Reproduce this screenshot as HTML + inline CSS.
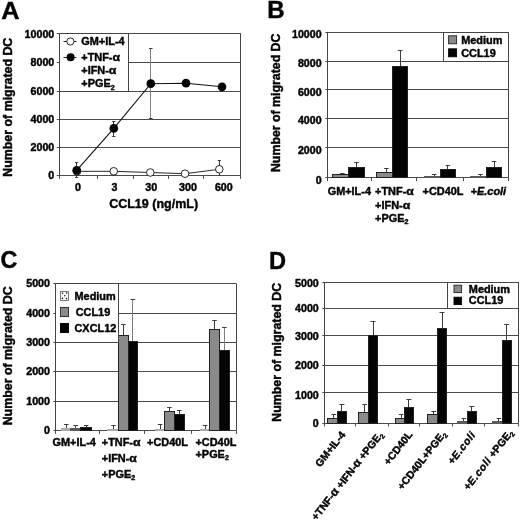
<!DOCTYPE html>
<html><head><meta charset="utf-8"><title>Figure</title>
<style>
html,body{margin:0;padding:0;background:#fff;}
svg{display:block;}
text{font-family:"Liberation Sans", sans-serif;fill:#040404;stroke:#040404;stroke-width:0.42px;stroke-linejoin:round;}
svg{will-change:transform;}
</style></head>
<body>
<svg width="520" height="521" viewBox="0 0 520 521">
<defs>
<pattern id="dots" width="4" height="4" patternUnits="userSpaceOnUse">
<rect width="4" height="4" fill="#fff"/>
<rect x="0.5" y="0.5" width="1.1" height="1.1" fill="#333"/>
<rect x="2.5" y="2.5" width="1.1" height="1.1" fill="#333"/>
</pattern>
</defs>
<rect width="520" height="521" fill="#fff"/>
<text transform="translate(1.2,18.8) scale(1.03,1)" font-size="24.6" text-anchor="start" font-weight="bold" >A</text>
<line x1="56.8" y1="33.5" x2="240.8" y2="33.5" stroke="#4a4a4a" stroke-width="1"/>
<line x1="56.8" y1="62.5" x2="240.8" y2="62.5" stroke="#4a4a4a" stroke-width="1"/>
<line x1="56.8" y1="91.5" x2="240.8" y2="91.5" stroke="#4a4a4a" stroke-width="1"/>
<line x1="56.8" y1="119.5" x2="240.8" y2="119.5" stroke="#4a4a4a" stroke-width="1"/>
<line x1="56.8" y1="147.5" x2="240.8" y2="147.5" stroke="#4a4a4a" stroke-width="1"/>
<line x1="56.8" y1="175.5" x2="240.8" y2="175.5" stroke="#4a4a4a" stroke-width="1"/>
<line x1="59.5" y1="33.5" x2="59.5" y2="175.7" stroke="#444" stroke-width="1"/>
<line x1="240.5" y1="33.5" x2="240.5" y2="175.7" stroke="#444" stroke-width="1"/>
<line x1="59.5" y1="175.7" x2="59.5" y2="178.9" stroke="#4a4a4a" stroke-width="1"/>
<line x1="97.5" y1="175.7" x2="97.5" y2="178.9" stroke="#4a4a4a" stroke-width="1"/>
<line x1="133.5" y1="175.7" x2="133.5" y2="178.9" stroke="#4a4a4a" stroke-width="1"/>
<line x1="168.5" y1="175.7" x2="168.5" y2="178.9" stroke="#4a4a4a" stroke-width="1"/>
<line x1="203.5" y1="175.7" x2="203.5" y2="178.9" stroke="#4a4a4a" stroke-width="1"/>
<line x1="240.5" y1="175.7" x2="240.5" y2="178.9" stroke="#4a4a4a" stroke-width="1"/>
<text transform="translate(54.3,38.1) scale(1.07,1)" font-size="10.0" text-anchor="end" font-weight="bold" >10000</text>
<text transform="translate(54.3,66.3) scale(1.07,1)" font-size="10.0" text-anchor="end" font-weight="bold" >8000</text>
<text transform="translate(54.3,95.2) scale(1.07,1)" font-size="10.0" text-anchor="end" font-weight="bold" >6000</text>
<text transform="translate(54.3,122.5) scale(1.07,1)" font-size="10.0" text-anchor="end" font-weight="bold" >4000</text>
<text transform="translate(54.3,150.6) scale(1.07,1)" font-size="10.0" text-anchor="end" font-weight="bold" >2000</text>
<text transform="translate(54.3,179.1) scale(1.07,1)" font-size="10.0" text-anchor="end" font-weight="bold" >0</text>
<text transform="translate(12.1,107.2) scale(1.06,1) rotate(-90)" font-size="12.4" font-weight="bold" text-anchor="middle">Number of migrated DC</text>
<text transform="translate(78,190.9) scale(1.07,1)" font-size="10.0" text-anchor="middle" font-weight="bold" >0</text>
<text transform="translate(114.5,190.9) scale(1.07,1)" font-size="10.0" text-anchor="middle" font-weight="bold" >3</text>
<text transform="translate(151.3,190.9) scale(1.07,1)" font-size="10.0" text-anchor="middle" font-weight="bold" >30</text>
<text transform="translate(188,190.9) scale(1.07,1)" font-size="10.0" text-anchor="middle" font-weight="bold" >300</text>
<text transform="translate(223.8,190.9) scale(1.07,1)" font-size="10.0" text-anchor="middle" font-weight="bold" >600</text>
<text transform="translate(153.6,207.9) scale(1.0,1)" font-size="12.5" text-anchor="middle" font-weight="bold" >CCL19 (ng/mL)</text>
<line x1="150.5" y1="48.0" x2="150.5" y2="118.7" stroke="#808080" stroke-width="1"/>
<line x1="149.0" y1="48.5" x2="152.6" y2="48.5" stroke="#3c3c3c" stroke-width="1"/>
<line x1="149.0" y1="118.5" x2="152.6" y2="118.5" stroke="#3c3c3c" stroke-width="1"/>
<line x1="76.5" y1="162.3" x2="76.5" y2="177.9" stroke="#333" stroke-width="1"/>
<line x1="75.0" y1="162.5" x2="78.2" y2="162.5" stroke="#3c3c3c" stroke-width="1"/>
<line x1="75.0" y1="177.5" x2="78.2" y2="177.5" stroke="#3c3c3c" stroke-width="1"/>
<line x1="113.5" y1="121.3" x2="113.5" y2="136.3" stroke="#333" stroke-width="1"/>
<line x1="112.2" y1="121.5" x2="115.4" y2="121.5" stroke="#3c3c3c" stroke-width="1"/>
<line x1="112.2" y1="136.5" x2="115.4" y2="136.5" stroke="#3c3c3c" stroke-width="1"/>
<line x1="219.5" y1="160.0" x2="219.5" y2="175.0" stroke="#333" stroke-width="1"/>
<line x1="217.7" y1="160.5" x2="220.9" y2="160.5" stroke="#3c3c3c" stroke-width="1"/>
<line x1="217.7" y1="175.5" x2="220.9" y2="175.5" stroke="#3c3c3c" stroke-width="1"/>
<polyline points="77,171.3 113.75,171.3 150.3,172.5 185,173.7 219.3,169.3" fill="none" stroke="#111" stroke-width="0.9"/>
<polyline points="76.7,170.4 113.8,128.4 150.8,83.7 186,83.2 222,86.8" fill="none" stroke="#111" stroke-width="1.1"/>
<circle cx="77" cy="171.3" r="3.8" fill="#fff" stroke="#111" stroke-width="0.9"/>
<circle cx="113.75" cy="171.3" r="3.8" fill="#fff" stroke="#111" stroke-width="0.9"/>
<circle cx="150.3" cy="172.5" r="3.8" fill="#fff" stroke="#111" stroke-width="0.9"/>
<circle cx="185" cy="173.7" r="3.8" fill="#fff" stroke="#111" stroke-width="0.9"/>
<circle cx="219.3" cy="169.3" r="3.8" fill="#fff" stroke="#111" stroke-width="0.9"/>
<circle cx="76.7" cy="170.4" r="4.35" fill="#040404"/>
<circle cx="113.8" cy="128.4" r="4.35" fill="#040404"/>
<circle cx="150.8" cy="83.7" r="4.35" fill="#040404"/>
<circle cx="186" cy="83.2" r="4.35" fill="#040404"/>
<circle cx="222" cy="86.8" r="4.35" fill="#040404"/>
<rect x="59.5" y="33.5" width="69.0" height="58.0" fill="#fff" stroke="#444" stroke-width="1"/>
<line x1="63.5" y1="41.5" x2="76.5" y2="41.5" stroke="#222" stroke-width="1"/>
<circle cx="70.4" cy="41.5" r="3.6" fill="#fff" stroke="#111" stroke-width="0.9"/>
<line x1="63.5" y1="57.5" x2="76.5" y2="57.5" stroke="#222" stroke-width="1"/>
<circle cx="70.6" cy="57.2" r="4" fill="#040404"/>
<text transform="translate(81.3,45.0) scale(1.07,1)" font-size="10.2" text-anchor="start" font-weight="bold" >GM+IL-4</text>
<text transform="translate(81.3,60.6) scale(1.07,1)" font-size="10.2" text-anchor="start" font-weight="bold" >+TNF-<tspan font-size="1.13em">α</tspan></text>
<text transform="translate(81.3,74.2) scale(1.07,1)" font-size="10.2" text-anchor="start" font-weight="bold" >+IFN-<tspan font-size="1.13em">α</tspan></text>
<text transform="translate(81.3,87.3) scale(1.07,1)" font-size="10.2" text-anchor="start" font-weight="bold" >+PGE<tspan font-size="0.65em" dy="2.2">2</tspan></text>
<text transform="translate(267.2,18.4) scale(0.98,1)" font-size="24.6" text-anchor="start" font-weight="bold" >B</text>
<line x1="325.3" y1="32.5" x2="508.0" y2="32.5" stroke="#4a4a4a" stroke-width="1"/>
<line x1="325.3" y1="61.5" x2="508.0" y2="61.5" stroke="#4a4a4a" stroke-width="1"/>
<line x1="325.3" y1="89.5" x2="508.0" y2="89.5" stroke="#4a4a4a" stroke-width="1"/>
<line x1="325.3" y1="118.5" x2="508.0" y2="118.5" stroke="#4a4a4a" stroke-width="1"/>
<line x1="325.3" y1="147.5" x2="508.0" y2="147.5" stroke="#4a4a4a" stroke-width="1"/>
<line x1="325.3" y1="177.5" x2="508.0" y2="177.5" stroke="#4a4a4a" stroke-width="1"/>
<line x1="327.5" y1="32.3" x2="327.5" y2="177.9" stroke="#444" stroke-width="1"/>
<line x1="508.5" y1="32.3" x2="508.5" y2="177.9" stroke="#444" stroke-width="1"/>
<line x1="327.5" y1="177.9" x2="327.5" y2="181.1" stroke="#4a4a4a" stroke-width="1"/>
<line x1="371.5" y1="177.9" x2="371.5" y2="181.1" stroke="#4a4a4a" stroke-width="1"/>
<line x1="416.5" y1="177.9" x2="416.5" y2="181.1" stroke="#4a4a4a" stroke-width="1"/>
<line x1="463.5" y1="177.9" x2="463.5" y2="181.1" stroke="#4a4a4a" stroke-width="1"/>
<line x1="508.5" y1="177.9" x2="508.5" y2="181.1" stroke="#4a4a4a" stroke-width="1"/>
<text transform="translate(321.7,37.9) scale(1.07,1)" font-size="10.0" text-anchor="end" font-weight="bold" >10000</text>
<text transform="translate(321.7,66.6) scale(1.07,1)" font-size="10.0" text-anchor="end" font-weight="bold" >8000</text>
<text transform="translate(321.7,95.5) scale(1.07,1)" font-size="10.0" text-anchor="end" font-weight="bold" >6000</text>
<text transform="translate(321.7,124.1) scale(1.07,1)" font-size="10.0" text-anchor="end" font-weight="bold" >4000</text>
<text transform="translate(321.7,153.5) scale(1.07,1)" font-size="10.0" text-anchor="end" font-weight="bold" >2000</text>
<text transform="translate(321.7,183.5) scale(1.07,1)" font-size="10.0" text-anchor="end" font-weight="bold" >0</text>
<text transform="translate(280.1,102.8) scale(1.1,1) rotate(-90)" font-size="12.35" font-weight="bold" text-anchor="middle">Number of migrated DC</text>
<line x1="342.5" y1="173.0" x2="342.5" y2="174.4" stroke="#3c3c3c" stroke-width="1"/>
<line x1="340.1" y1="173.5" x2="344.7" y2="173.5" stroke="#3c3c3c" stroke-width="1"/>
<line x1="356.5" y1="162.3" x2="356.5" y2="167.5" stroke="#3c3c3c" stroke-width="1"/>
<line x1="354.1" y1="162.5" x2="358.7" y2="162.5" stroke="#3c3c3c" stroke-width="1"/>
<rect x="332.5" y="174.5" width="16.0" height="3.0" fill="#8a8a8a" stroke="#222" stroke-width="1"/>
<rect x="348.5" y="167.5" width="16.0" height="10.0" fill="#040404" stroke="#222" stroke-width="1"/>
<line x1="386.5" y1="168.0" x2="386.5" y2="172.5" stroke="#3c3c3c" stroke-width="1"/>
<line x1="384.1" y1="168.5" x2="388.7" y2="168.5" stroke="#3c3c3c" stroke-width="1"/>
<line x1="400.5" y1="50.8" x2="400.5" y2="66.3" stroke="#3c3c3c" stroke-width="1"/>
<line x1="397.8" y1="50.5" x2="402.4" y2="50.5" stroke="#3c3c3c" stroke-width="1"/>
<rect x="376.5" y="172.5" width="16.0" height="5.0" fill="#8a8a8a" stroke="#222" stroke-width="1"/>
<rect x="392.5" y="66.5" width="15.0" height="111.0" fill="#040404" stroke="#222" stroke-width="1"/>
<line x1="434.5" y1="174.3" x2="434.5" y2="176.8" stroke="#3c3c3c" stroke-width="1"/>
<line x1="431.8" y1="174.5" x2="436.4" y2="174.5" stroke="#3c3c3c" stroke-width="1"/>
<line x1="447.5" y1="165.3" x2="447.5" y2="169.5" stroke="#3c3c3c" stroke-width="1"/>
<line x1="445.6" y1="165.5" x2="450.2" y2="165.5" stroke="#3c3c3c" stroke-width="1"/>
<rect x="424.0" y="176.0" width="17.0" height="2.0" fill="#5a5a5a"/>
<rect x="440.5" y="169.5" width="15.0" height="8.0" fill="#040404" stroke="#222" stroke-width="1"/>
<line x1="480.5" y1="174.3" x2="480.5" y2="176.8" stroke="#3c3c3c" stroke-width="1"/>
<line x1="478.1" y1="174.5" x2="482.7" y2="174.5" stroke="#3c3c3c" stroke-width="1"/>
<line x1="494.5" y1="161.2" x2="494.5" y2="167.0" stroke="#3c3c3c" stroke-width="1"/>
<line x1="491.7" y1="161.5" x2="496.3" y2="161.5" stroke="#3c3c3c" stroke-width="1"/>
<rect x="470.0" y="176.0" width="17.0" height="2.0" fill="#5a5a5a"/>
<rect x="486.5" y="167.5" width="15.0" height="10.0" fill="#040404" stroke="#222" stroke-width="1"/>
<text transform="translate(349.3,194.9) scale(1.07,1)" font-size="10.2" text-anchor="middle" font-weight="bold" >GM+IL-4</text>
<text transform="translate(375.1,194.9) scale(1.07,1)" font-size="10.2" text-anchor="start" font-weight="bold" >+TNF-<tspan font-size="1.13em">α</tspan></text>
<text transform="translate(375.1,208.8) scale(1.07,1)" font-size="10.2" text-anchor="start" font-weight="bold" >+IFN-<tspan font-size="1.13em">α</tspan></text>
<text transform="translate(375.1,221.7) scale(1.07,1)" font-size="10.2" text-anchor="start" font-weight="bold" >+PGE<tspan font-size="0.65em" dy="2.2">2</tspan></text>
<text transform="translate(443,194.9) scale(1.07,1)" font-size="10.2" text-anchor="middle" font-weight="bold" >+CD40L</text>
<text transform="translate(488.4,194.9) scale(1.07,1)" font-size="10.2" text-anchor="middle" font-weight="bold" >+<tspan font-style="italic">E.coli</tspan></text>
<rect x="443.5" y="32.5" width="65.0" height="29.0" fill="#fff" stroke="#444" stroke-width="1"/>
<rect x="448.6" y="35.8" width="8" height="8" fill="#8a8a8a" stroke="#222" stroke-width="0.9"/>
<rect x="448.6" y="48.8" width="8" height="8" fill="#040404" stroke="#040404" stroke-width="0.9"/>
<text transform="translate(461.2,43.8) scale(1.07,1)" font-size="10.2" text-anchor="start" font-weight="bold" >Medium</text>
<text transform="translate(461.2,56.8) scale(1.07,1)" font-size="10.2" text-anchor="start" font-weight="bold" >CCL19</text>
<text transform="translate(0.5,268.2) scale(0.95,1)" font-size="24.6" text-anchor="start" font-weight="bold" >C</text>
<line x1="53.3" y1="283.5" x2="236.0" y2="283.5" stroke="#4a4a4a" stroke-width="1"/>
<line x1="53.3" y1="313.5" x2="236.0" y2="313.5" stroke="#4a4a4a" stroke-width="1"/>
<line x1="53.3" y1="342.5" x2="236.0" y2="342.5" stroke="#4a4a4a" stroke-width="1"/>
<line x1="53.3" y1="371.5" x2="236.0" y2="371.5" stroke="#4a4a4a" stroke-width="1"/>
<line x1="53.3" y1="401.5" x2="236.0" y2="401.5" stroke="#4a4a4a" stroke-width="1"/>
<line x1="53.3" y1="430.5" x2="236.0" y2="430.5" stroke="#4a4a4a" stroke-width="1"/>
<line x1="55.5" y1="283.4" x2="55.5" y2="430.7" stroke="#444" stroke-width="1"/>
<line x1="236.5" y1="283.4" x2="236.5" y2="430.7" stroke="#444" stroke-width="1"/>
<line x1="55.5" y1="430.7" x2="55.5" y2="433.9" stroke="#4a4a4a" stroke-width="1"/>
<line x1="99.5" y1="430.7" x2="99.5" y2="433.9" stroke="#4a4a4a" stroke-width="1"/>
<line x1="144.5" y1="430.7" x2="144.5" y2="433.9" stroke="#4a4a4a" stroke-width="1"/>
<line x1="191.5" y1="430.7" x2="191.5" y2="433.9" stroke="#4a4a4a" stroke-width="1"/>
<line x1="236.5" y1="430.7" x2="236.5" y2="433.9" stroke="#4a4a4a" stroke-width="1"/>
<text transform="translate(50.0,286.9) scale(1.07,1)" font-size="10.0" text-anchor="end" font-weight="bold" >5000</text>
<text transform="translate(50.0,316.5) scale(1.07,1)" font-size="10.0" text-anchor="end" font-weight="bold" >4000</text>
<text transform="translate(50.0,345.8) scale(1.07,1)" font-size="10.0" text-anchor="end" font-weight="bold" >3000</text>
<text transform="translate(50.0,374.9) scale(1.07,1)" font-size="10.0" text-anchor="end" font-weight="bold" >2000</text>
<text transform="translate(50.0,405.2) scale(1.07,1)" font-size="10.0" text-anchor="end" font-weight="bold" >1000</text>
<text transform="translate(50.0,434.2) scale(1.07,1)" font-size="10.0" text-anchor="end" font-weight="bold" >0</text>
<text transform="translate(11.6,355.8) scale(1.06,1) rotate(-90)" font-size="12.4" font-weight="bold" text-anchor="middle">Number of migrated DC</text>
<line x1="66.5" y1="424.5" x2="66.5" y2="428.7" stroke="#3c3c3c" stroke-width="1"/>
<line x1="64.0" y1="424.5" x2="68.6" y2="424.5" stroke="#3c3c3c" stroke-width="1"/>
<line x1="75.5" y1="425.5" x2="75.5" y2="428.0" stroke="#3c3c3c" stroke-width="1"/>
<line x1="73.4" y1="425.5" x2="78.0" y2="425.5" stroke="#3c3c3c" stroke-width="1"/>
<line x1="86.5" y1="425.5" x2="86.5" y2="427.5" stroke="#3c3c3c" stroke-width="1"/>
<line x1="83.8" y1="425.5" x2="88.3" y2="425.5" stroke="#3c3c3c" stroke-width="1"/>
<rect x="61.0" y="428.0" width="10.0" height="3.0" fill="#aaa"/>
<rect x="70.0" y="428.0" width="11.0" height="3.0" fill="#5a5a5a"/>
<rect x="80.5" y="427.5" width="11.0" height="3.0" fill="#040404" stroke="#222" stroke-width="1"/>
<line x1="113.5" y1="425.0" x2="113.5" y2="429.3" stroke="#3c3c3c" stroke-width="1"/>
<line x1="111.2" y1="425.5" x2="115.8" y2="425.5" stroke="#3c3c3c" stroke-width="1"/>
<line x1="123.5" y1="324.4" x2="123.5" y2="335.3" stroke="#3c3c3c" stroke-width="1"/>
<line x1="121.0" y1="324.5" x2="125.6" y2="324.5" stroke="#3c3c3c" stroke-width="1"/>
<line x1="132.5" y1="299.5" x2="132.5" y2="341.3" stroke="#808080" stroke-width="1"/>
<line x1="130.6" y1="299.5" x2="135.2" y2="299.5" stroke="#3c3c3c" stroke-width="1"/>
<rect x="107.0" y="429.0" width="12.0" height="2.0" fill="#aaa"/>
<rect x="118.5" y="335.5" width="10.0" height="95.0" fill="#8a8a8a" stroke="#222" stroke-width="1"/>
<rect x="128.5" y="341.5" width="9.0" height="89.0" fill="#040404" stroke="#222" stroke-width="1"/>
<line x1="160.5" y1="424.5" x2="160.5" y2="429.3" stroke="#3c3c3c" stroke-width="1"/>
<line x1="157.8" y1="424.5" x2="162.4" y2="424.5" stroke="#3c3c3c" stroke-width="1"/>
<line x1="169.5" y1="407.0" x2="169.5" y2="411.3" stroke="#3c3c3c" stroke-width="1"/>
<line x1="167.1" y1="407.5" x2="171.7" y2="407.5" stroke="#3c3c3c" stroke-width="1"/>
<line x1="179.5" y1="410.0" x2="179.5" y2="414.5" stroke="#3c3c3c" stroke-width="1"/>
<line x1="177.0" y1="410.5" x2="181.6" y2="410.5" stroke="#3c3c3c" stroke-width="1"/>
<rect x="155.0" y="429.0" width="10.0" height="2.0" fill="#aaa"/>
<rect x="164.5" y="411.5" width="10.0" height="19.0" fill="#8a8a8a" stroke="#222" stroke-width="1"/>
<rect x="174.5" y="414.5" width="10.0" height="16.0" fill="#040404" stroke="#222" stroke-width="1"/>
<line x1="205.5" y1="425.5" x2="205.5" y2="429.5" stroke="#3c3c3c" stroke-width="1"/>
<line x1="202.8" y1="425.5" x2="207.4" y2="425.5" stroke="#3c3c3c" stroke-width="1"/>
<line x1="214.5" y1="320.8" x2="214.5" y2="329.3" stroke="#3c3c3c" stroke-width="1"/>
<line x1="212.2" y1="320.5" x2="216.8" y2="320.5" stroke="#3c3c3c" stroke-width="1"/>
<line x1="224.5" y1="327.5" x2="224.5" y2="350.9" stroke="#808080" stroke-width="1"/>
<line x1="222.1" y1="327.5" x2="226.7" y2="327.5" stroke="#3c3c3c" stroke-width="1"/>
<rect x="200.0" y="429.0" width="10.0" height="2.0" fill="#aaa"/>
<rect x="209.5" y="329.5" width="10.0" height="101.0" fill="#8a8a8a" stroke="#222" stroke-width="1"/>
<rect x="219.5" y="350.5" width="10.0" height="80.0" fill="#040404" stroke="#222" stroke-width="1"/>
<text transform="translate(74.2,445.5) scale(1.07,1)" font-size="10.2" text-anchor="middle" font-weight="bold" >GM+IL-4</text>
<text transform="translate(101.8,445.5) scale(1.07,1)" font-size="10.2" text-anchor="start" font-weight="bold" >+TNF-<tspan font-size="1.13em">α</tspan></text>
<text transform="translate(101.8,461.5) scale(1.07,1)" font-size="10.2" text-anchor="start" font-weight="bold" >+IFN-<tspan font-size="1.13em">α</tspan></text>
<text transform="translate(101.8,477.9) scale(1.07,1)" font-size="10.2" text-anchor="start" font-weight="bold" >+PGE<tspan font-size="0.65em" dy="2.2">2</tspan></text>
<text transform="translate(167.5,445.5) scale(1.07,1)" font-size="10.2" text-anchor="middle" font-weight="bold" >+CD40L</text>
<text transform="translate(195.5,445.5) scale(1.07,1)" font-size="10.2" text-anchor="start" font-weight="bold" >+CD40L</text>
<text transform="translate(195.5,458.1) scale(1.07,1)" font-size="10.2" text-anchor="start" font-weight="bold" >+PGE<tspan font-size="0.65em" dy="2.2">2</tspan></text>
<rect x="55.5" y="283.5" width="63.0" height="59.0" fill="#fff" stroke="#444" stroke-width="1"/>
<rect x="60.5" y="291.5" width="8.0" height="9.0" fill="#fff" stroke="#777" stroke-width="1"/>
<circle cx="62.6" cy="293.2" r="0.8" fill="#111"/>
<circle cx="66.6" cy="293.0" r="0.8" fill="#111"/>
<circle cx="64.8" cy="295.8" r="0.8" fill="#111"/>
<circle cx="62.4" cy="298.4" r="0.8" fill="#111"/>
<circle cx="66.4" cy="298.6" r="0.8" fill="#111"/>
<rect x="60.5" y="307.5" width="8.0" height="9.0" fill="#8a8a8a" stroke="#333" stroke-width="1"/>
<rect x="60.5" y="323.5" width="8.0" height="9.0" fill="#040404" stroke="#040404" stroke-width="1"/>
<text transform="translate(74.5,300) scale(1.07,1)" font-size="10.2" text-anchor="start" font-weight="bold" >Medium</text>
<text transform="translate(75.7,315.8) scale(1.07,1)" font-size="10.2" text-anchor="start" font-weight="bold" >CCL19</text>
<text transform="translate(74.5,331.8) scale(1.07,1)" font-size="10.2" text-anchor="start" font-weight="bold" >CXCL12</text>
<text transform="translate(269.0,268.6) scale(0.96,1)" font-size="24.6" text-anchor="start" font-weight="bold" >D</text>
<line x1="322.3" y1="282.5" x2="518.2" y2="282.5" stroke="#4a4a4a" stroke-width="1"/>
<line x1="322.3" y1="308.5" x2="518.2" y2="308.5" stroke="#4a4a4a" stroke-width="1"/>
<line x1="322.3" y1="335.5" x2="518.2" y2="335.5" stroke="#4a4a4a" stroke-width="1"/>
<line x1="322.3" y1="365.5" x2="518.2" y2="365.5" stroke="#4a4a4a" stroke-width="1"/>
<line x1="322.3" y1="392.5" x2="518.2" y2="392.5" stroke="#4a4a4a" stroke-width="1"/>
<line x1="322.3" y1="423.5" x2="518.2" y2="423.5" stroke="#4a4a4a" stroke-width="1"/>
<line x1="324.5" y1="282.8" x2="324.5" y2="423.2" stroke="#444" stroke-width="1"/>
<line x1="518.5" y1="282.8" x2="518.5" y2="423.2" stroke="#444" stroke-width="1"/>
<line x1="324.5" y1="423.2" x2="324.5" y2="426.4" stroke="#4a4a4a" stroke-width="1"/>
<line x1="355.5" y1="423.2" x2="355.5" y2="426.4" stroke="#4a4a4a" stroke-width="1"/>
<line x1="388.5" y1="423.2" x2="388.5" y2="426.4" stroke="#4a4a4a" stroke-width="1"/>
<line x1="419.5" y1="423.2" x2="419.5" y2="426.4" stroke="#4a4a4a" stroke-width="1"/>
<line x1="452.5" y1="423.2" x2="452.5" y2="426.4" stroke="#4a4a4a" stroke-width="1"/>
<line x1="484.5" y1="423.2" x2="484.5" y2="426.4" stroke="#4a4a4a" stroke-width="1"/>
<line x1="518.5" y1="423.2" x2="518.5" y2="426.4" stroke="#4a4a4a" stroke-width="1"/>
<text transform="translate(318.8,286.7) scale(1.07,1)" font-size="10.0" text-anchor="end" font-weight="bold" >5000</text>
<text transform="translate(318.8,312.0) scale(1.07,1)" font-size="10.0" text-anchor="end" font-weight="bold" >4000</text>
<text transform="translate(318.8,339.6) scale(1.07,1)" font-size="10.0" text-anchor="end" font-weight="bold" >3000</text>
<text transform="translate(318.8,368.7) scale(1.07,1)" font-size="10.0" text-anchor="end" font-weight="bold" >2000</text>
<text transform="translate(318.8,398.9) scale(1.07,1)" font-size="10.0" text-anchor="end" font-weight="bold" >1000</text>
<text transform="translate(318.8,427.3) scale(1.07,1)" font-size="10.0" text-anchor="end" font-weight="bold" >0</text>
<text transform="translate(281.0,352.3) scale(1.1,1) rotate(-90)" font-size="12.4" font-weight="bold" text-anchor="middle">Number of migrated DC</text>
<line x1="333.5" y1="414.8" x2="333.5" y2="418.2" stroke="#3c3c3c" stroke-width="1"/>
<line x1="331.4" y1="414.5" x2="336.1" y2="414.5" stroke="#3c3c3c" stroke-width="1"/>
<line x1="341.5" y1="404.7" x2="341.5" y2="411.9" stroke="#3c3c3c" stroke-width="1"/>
<line x1="339.4" y1="404.5" x2="344.4" y2="404.5" stroke="#3c3c3c" stroke-width="1"/>
<rect x="327.5" y="418.5" width="10.0" height="5.0" fill="#8a8a8a" stroke="#222" stroke-width="1"/>
<rect x="337.5" y="411.5" width="9.0" height="12.0" fill="#040404" stroke="#222" stroke-width="1"/>
<line x1="364.5" y1="404.8" x2="364.5" y2="412.5" stroke="#3c3c3c" stroke-width="1"/>
<line x1="362.4" y1="404.5" x2="367.0" y2="404.5" stroke="#3c3c3c" stroke-width="1"/>
<line x1="373.5" y1="321.4" x2="373.5" y2="335.0" stroke="#3c3c3c" stroke-width="1"/>
<line x1="370.5" y1="321.5" x2="375.5" y2="321.5" stroke="#3c3c3c" stroke-width="1"/>
<rect x="358.5" y="412.5" width="10.0" height="11.0" fill="#8a8a8a" stroke="#222" stroke-width="1"/>
<rect x="368.5" y="335.5" width="9.0" height="88.0" fill="#040404" stroke="#222" stroke-width="1"/>
<line x1="401.5" y1="414.8" x2="401.5" y2="418.1" stroke="#3c3c3c" stroke-width="1"/>
<line x1="398.8" y1="414.5" x2="403.4" y2="414.5" stroke="#3c3c3c" stroke-width="1"/>
<line x1="408.5" y1="399.4" x2="408.5" y2="407.5" stroke="#3c3c3c" stroke-width="1"/>
<line x1="406.4" y1="399.5" x2="411.4" y2="399.5" stroke="#3c3c3c" stroke-width="1"/>
<rect x="395.5" y="418.5" width="9.0" height="5.0" fill="#8a8a8a" stroke="#222" stroke-width="1"/>
<rect x="404.5" y="407.5" width="9.0" height="16.0" fill="#040404" stroke="#222" stroke-width="1"/>
<line x1="433.5" y1="411.0" x2="433.5" y2="414.2" stroke="#3c3c3c" stroke-width="1"/>
<line x1="431.4" y1="411.5" x2="436.1" y2="411.5" stroke="#3c3c3c" stroke-width="1"/>
<line x1="442.5" y1="312.7" x2="442.5" y2="328.6" stroke="#3c3c3c" stroke-width="1"/>
<line x1="439.5" y1="312.5" x2="444.5" y2="312.5" stroke="#3c3c3c" stroke-width="1"/>
<rect x="427.5" y="414.5" width="10.0" height="9.0" fill="#8a8a8a" stroke="#222" stroke-width="1"/>
<rect x="437.5" y="328.5" width="9.0" height="95.0" fill="#040404" stroke="#222" stroke-width="1"/>
<line x1="463.5" y1="418.7" x2="463.5" y2="421.5" stroke="#3c3c3c" stroke-width="1"/>
<line x1="461.5" y1="418.5" x2="466.1" y2="418.5" stroke="#3c3c3c" stroke-width="1"/>
<line x1="471.5" y1="406.7" x2="471.5" y2="411.9" stroke="#3c3c3c" stroke-width="1"/>
<line x1="469.4" y1="406.5" x2="474.4" y2="406.5" stroke="#3c3c3c" stroke-width="1"/>
<rect x="457.0" y="421.0" width="11.0" height="3.0" fill="#5a5a5a"/>
<rect x="467.5" y="411.5" width="9.0" height="12.0" fill="#040404" stroke="#222" stroke-width="1"/>
<line x1="498.5" y1="418.6" x2="498.5" y2="421.5" stroke="#3c3c3c" stroke-width="1"/>
<line x1="496.6" y1="418.5" x2="501.2" y2="418.5" stroke="#3c3c3c" stroke-width="1"/>
<line x1="506.5" y1="324.3" x2="506.5" y2="340.0" stroke="#3c3c3c" stroke-width="1"/>
<line x1="504.2" y1="324.5" x2="509.2" y2="324.5" stroke="#3c3c3c" stroke-width="1"/>
<rect x="492.0" y="421.0" width="11.0" height="3.0" fill="#5a5a5a"/>
<rect x="502.5" y="340.5" width="9.0" height="83.0" fill="#040404" stroke="#222" stroke-width="1"/>
<text transform="translate(346,434.8) rotate(-52)" font-size="10.5" font-weight="bold" text-anchor="end">GM+IL-4</text>
<text transform="translate(383.6,435) rotate(-52)" font-size="10.5" font-weight="bold" text-anchor="end">+TNF-<tspan font-size="1.13em">α</tspan> +IFN-<tspan font-size="1.13em">α</tspan> +PGE<tspan font-size="0.65em" dy="2.2">2</tspan></text>
<text transform="translate(413,434.8) rotate(-52)" font-size="10.5" font-weight="bold" text-anchor="end">+CD40L</text>
<text transform="translate(446.6,434.2) rotate(-52)" font-size="10.5" font-weight="bold" text-anchor="end">+CD40L+PGE<tspan font-size="0.65em" dy="2.2">2</tspan></text>
<text transform="translate(476.3,434.8) rotate(-52)" font-size="10.5" font-weight="bold" text-anchor="end">+<tspan font-style="italic" letter-spacing="0.7">E.coli</tspan></text>
<text transform="translate(513.6,433) rotate(-52)" font-size="10.5" font-weight="bold" text-anchor="end">+<tspan font-style="italic" letter-spacing="0.7">E.coli</tspan> +PGE<tspan font-size="0.65em" dy="2.2">2</tspan></text>
<rect x="447.5" y="282.5" width="71.0" height="26.0" fill="#fff" stroke="#444" stroke-width="1"/>
<rect x="454" y="285.2" width="7.6" height="7.4" fill="#8a8a8a" stroke="#222" stroke-width="0.9"/>
<rect x="454" y="297.2" width="7.6" height="7.4" fill="#040404" stroke="#040404" stroke-width="0.9"/>
<text transform="translate(468.8,293.1) scale(1.07,1)" font-size="10.2" text-anchor="start" font-weight="bold" >Medium</text>
<text transform="translate(468.8,304.2) scale(1.07,1)" font-size="10.2" text-anchor="start" font-weight="bold" >CCL19</text>
</svg>
</body></html>
